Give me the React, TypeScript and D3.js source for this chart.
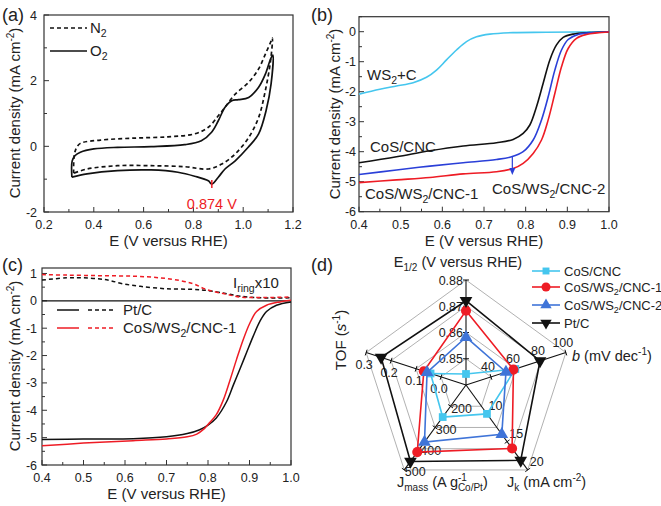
import React from "react";
import * as d3 from "d3";

const FONT = "'Liberation Sans', Arial, Helvetica, sans-serif";

// ---------------- (a) cyclic voltammetry ----------------
const cvO2E = [0.312, 0.313, 0.325, 0.346, 0.4, 0.495, 0.63, 0.765, 0.832, 0.873, 0.9, 0.927, 0.954, 0.981, 1.022, 1.062, 1.089, 1.11, 1.119, 1.112, 1.092, 1.062, 1.02, 0.968, 0.927, 0.9, 0.874, 0.86, 0.805, 0.738, 0.63, 0.495, 0.373, 0.312];
const cvO2J = [-0.94, -0.45, -0.28, -0.18, -0.08, -0.03, -0.01, 0.05, 0.17, 0.43, 0.78, 1.19, 1.39, 1.42, 1.49, 1.8, 2.2, 2.66, 2.78, 1.9, 1.09, 0.38, -0.03, -0.44, -0.69, -0.94, -1.15, -1.05, -0.91, -0.79, -0.72, -0.74, -0.84, -0.94];
const cvN2E = [0.319, 0.321, 0.33, 0.346, 0.427, 0.562, 0.697, 0.805, 0.86, 0.9, 0.927, 0.968, 1.022, 1.062, 1.089, 1.11, 1.117, 1.11, 1.089, 1.062, 1.022, 0.968, 0.914, 0.86, 0.765, 0.63, 0.495, 0.373, 0.319];
const cvN2J = [-0.82, -0.3, -0.05, 0.09, 0.19, 0.25, 0.29, 0.38, 0.58, 0.93, 1.19, 1.59, 1.95, 2.36, 2.81, 3.17, 3.3, 2.61, 1.7, 0.88, 0.27, -0.23, -0.54, -0.69, -0.62, -0.59, -0.59, -0.69, -0.82];
const cvPeakE = 0.874;
const cvPeakJ = -1.15;
const aXTicks = [0.2, 0.4, 0.6, 0.8, 1.0, 1.2];
const aYTicks = [-2, 0, 2, 4];

// ---------------- (b) LSV ----------------
const ws2cE = [0.4, 0.45, 0.49, 0.53, 0.562, 0.586, 0.61, 0.634, 0.658, 0.682, 0.714, 0.77, 0.85, 1.0];
const ws2cJ = [-2.08, -1.92, -1.81, -1.7, -1.52, -1.28, -0.94, -0.61, -0.33, -0.17, -0.08, -0.03, -0.02, 0.0];
const cosCncE = [0.4, 0.49, 0.57, 0.65, 0.73, 0.77, 0.794, 0.81, 0.826, 0.842, 0.858, 0.874, 0.89, 0.914, 0.954, 1.0];
const cosCncJ = [-4.37, -4.17, -3.97, -3.81, -3.7, -3.59, -3.39, -3.11, -2.5, -1.72, -0.94, -0.44, -0.19, -0.08, -0.03, -0.01];
const blueLsvE = [0.4, 0.49, 0.57, 0.65, 0.73, 0.766, 0.794, 0.818, 0.838, 0.854, 0.87, 0.886, 0.902, 0.926, 0.962, 1.0];
const blueLsvJ = [-4.76, -4.61, -4.48, -4.37, -4.26, -4.17, -4.0, -3.61, -2.94, -2.17, -1.28, -0.61, -0.26, -0.09, -0.03, 0.0];
const redLsvE = [0.4, 0.49, 0.57, 0.65, 0.73, 0.77, 0.794, 0.818, 0.838, 0.854, 0.87, 0.886, 0.902, 0.922, 0.946, 0.97, 1.0];
const redLsvJ = [-5.03, -4.94, -4.86, -4.74, -4.67, -4.56, -4.39, -4.06, -3.61, -2.94, -2.06, -1.17, -0.56, -0.22, -0.09, -0.04, -0.01];
const bArrowE = 0.768;
const bArrowJ = [-4.15, -4.78];
const bXTicks = [0.4, 0.5, 0.6, 0.7, 0.8, 0.9, 1.0];
const bYTicks = [-6, -5, -4, -3, -2, -1, 0];

// ---------------- (c) RRDE ----------------
const ptDiskE = [0.4, 0.5, 0.62, 0.7, 0.75, 0.78, 0.8, 0.82, 0.845, 0.861, 0.877, 0.893, 0.909, 0.925, 0.941, 0.965, 1.0];
const ptDiskJ = [-5.07, -5.05, -5.04, -4.97, -4.85, -4.71, -4.54, -4.28, -3.68, -3.08, -2.49, -1.89, -1.29, -0.75, -0.39, -0.16, -0.04];
const cnc1DiskE = [0.4, 0.5, 0.62, 0.7, 0.75, 0.773, 0.789, 0.8, 0.82, 0.837, 0.853, 0.869, 0.885, 0.901, 0.917, 0.941, 0.973, 1.0];
const cnc1DiskJ = [-5.3, -5.2, -5.11, -5.05, -4.97, -4.87, -4.7, -4.52, -4.16, -3.62, -2.9, -2.13, -1.41, -0.81, -0.39, -0.16, -0.04, 0.02];
const ptRingE = [0.4, 0.46, 0.5, 0.54, 0.564, 0.596, 0.637, 0.7, 0.765, 0.797, 0.845, 0.877, 0.925, 1.0];
const ptRingJ = [0.76, 0.84, 0.84, 0.8, 0.74, 0.62, 0.53, 0.44, 0.42, 0.38, 0.26, 0.17, 0.11, 0.11];
const cnc1RingE = [0.4, 0.46, 0.54, 0.62, 0.685, 0.733, 0.765, 0.797, 0.845, 0.877, 0.925, 1.0];
const cnc1RingJ = [0.96, 0.94, 0.92, 0.9, 0.84, 0.74, 0.62, 0.41, 0.24, 0.14, 0.12, 0.14];
const cXTicks = [0.4, 0.5, 0.6, 0.7, 0.8, 0.9, 1.0];
const cYTicks = [-6, -5, -4, -3, -2, -1, 0, 1];

// ---------------- (d) radar ----------------
const radarAxes = ["E1/2", "b", "Jk", "Jmass", "TOF"];
const radarMin = [0.84, 20, 5, 100, -0.1];
const radarMax = [0.88, 100, 20, 500, 0.3];
const radarTickE = [0.85, 0.86, 0.87, 0.88];
const radarTickB = [40, 60, 80, 100];
const radarTickJk = [10, 15, 20];
const radarTickJmass = [200, 300, 400, 500];
const radarTickTof = [0.0, 0.1, 0.2, 0.3];
const radarSeries = ["CoS/CNC", "CoS/WS2/CNC-1", "CoS/WS2/CNC-2", "Pt/C"];
const cosCncRadar = [0.8442, 59.5, 10.1, 251, 0.042];
const cnc1Radar = [0.8683, 58, 16.2, 416, 0.069];
const cnc2Radar = [0.8582, 52, 13.7, 369, 0.056];
const ptcRadar = [0.8721, 79.3, 18.3, 460, 0.24];

const CYAN = "#45c6ee";
const RED = "#ee1c25";
const BLUE_B = "#2a3fd8";
const BLUE_D = "#3f74d8";
const AXIS = "#333";

const fmt1 = (v: number) => v.toFixed(1);
const fmtInt = (v: number) => String(Math.round(v));

type FrameProps = {
  x: d3.ScaleLinear<number, number>;
  y: d3.ScaleLinear<number, number>;
  xTicks: number[];
  xMinorStep: number;
  yTicks: number[];
  yMinorStep: number;
  xFmt: (v: number) => string;
  yFmt: (v: number) => string;
  yGap: number;
};

function Frame({ x, y, xTicks, xMinorStep, yTicks, yMinorStep, xFmt, yFmt, yGap }: FrameProps) {
  const [x0, x1] = x.range();
  const [y0, y1] = y.range();
  const [dx0, dx1] = x.domain();
  const [dy0, dy1] = y.domain();
  const xMinor: number[] = [];
  for (let v = Math.ceil(dx0 / xMinorStep - 1e-6) * xMinorStep; v <= dx1 + 1e-9; v += xMinorStep) xMinor.push(+v.toFixed(4));
  const yMinor: number[] = [];
  for (let v = Math.ceil(dy0 / yMinorStep - 1e-6) * yMinorStep; v <= dy1 + 1e-9; v += yMinorStep) yMinor.push(+v.toFixed(4));
  return (
    <g>
      <rect x={x0} y={y1} width={x1 - x0} height={y0 - y1} fill="none" stroke={AXIS} strokeWidth={1.2} />
      {xMinor.map((v, i) => (
        <line key={"xm" + i} x1={x(v)} x2={x(v)} y1={y0} y2={y0 - (xTicks.some((t) => Math.abs(t - v) < 1e-6) ? 5 : 3)} stroke={AXIS} strokeWidth={1} />
      ))}
      {yMinor.map((v, i) => (
        <line key={"ym" + i} x1={x0} x2={x0 + (yTicks.some((t) => Math.abs(t - v) < 1e-6) ? 5 : 3)} y1={y(v)} y2={y(v)} stroke={AXIS} strokeWidth={1} />
      ))}
      {xTicks.map((v, i) => (
        <text key={"xl" + i} x={x(v)} y={y0 + 17} textAnchor="middle" fontSize={12.5} fill="#222">
          {xFmt(v)}
        </text>
      ))}
      {yTicks.map((v, i) => (
        <text key={"yl" + i} x={x0 - yGap} y={y(v) + 4.5} textAnchor="end" fontSize={12.5} fill="#222">
          {yFmt(v)}
        </text>
      ))}
      <text x={(x0 + x1) / 2} y={y0 + 34} textAnchor="middle" fontSize={15} fill="#222">
        E (V versus RHE)
      </text>
    </g>
  );
}

function YTitle({ x, y }: { x: number; y: number }) {
  return (
    <text transform={`translate(${x},${y}) rotate(-90)`} textAnchor="middle" fontSize={15} fill="#222">
      Current density (mA cm<tspan dy={-6} fontSize={10}>-2</tspan>
      <tspan dy={6}>)</tspan>
    </text>
  );
}

function curve(xs: number[], ys: number[], x: d3.ScaleLinear<number, number>, y: d3.ScaleLinear<number, number>) {
  const pts = xs.map((v, i) => [v, ys[i]] as [number, number]);
  return d3
    .line<[number, number]>()
    .x((d) => x(d[0]))
    .y((d) => y(d[1]))
    .curve(d3.curveCatmullRom.alpha(0.5))(pts) as string;
}

function PanelA() {
  const x = d3.scaleLinear().domain([0.2, 1.2]).range([44, 293]);
  const y = d3.scaleLinear().domain([-2, 4]).range([212, 15]);
  return (
    <g>
      <Frame x={x} y={y} xTicks={aXTicks} xMinorStep={0.1} yTicks={aYTicks} yMinorStep={1} xFmt={fmt1} yFmt={fmtInt} yGap={7} />
      <path d={curve(cvN2E, cvN2J, x, y)} fill="none" stroke="#111" strokeWidth={1.7} strokeDasharray="4,3" />
      <path d={curve(cvO2E, cvO2J, x, y)} fill="none" stroke="#111" strokeWidth={1.7} />
      <line x1={x(cvPeakE)} x2={x(cvPeakE)} y1={y(cvPeakJ) - 4} y2={y(cvPeakJ) + 4} stroke={RED} strokeWidth={1.5} />
      <text x={x(cvPeakE)} y={y(cvPeakJ) + 25} textAnchor="middle" fontSize={14.5} fill={RED}>
        {cvPeakE} V
      </text>
      <line x1={50} x2={87} y1={28} y2={28} stroke="#111" strokeWidth={1.7} strokeDasharray="4,3" />
      <text x={90} y={33} fontSize={15} fill="#222">
        N<tspan dy={4} fontSize={10.5}>2</tspan>
      </text>
      <line x1={50} x2={87} y1={51} y2={51} stroke="#111" strokeWidth={1.7} />
      <text x={90} y={56} fontSize={15} fill="#222">
        O<tspan dy={4} fontSize={10.5}>2</tspan>
      </text>
      <YTitle x={20} y={113} />
      <text x={2} y={21} fontSize={18} fill="#222">(a)</text>
    </g>
  );
}

function PanelB() {
  const x = d3.scaleLinear().domain([0.4, 1.0]).range([359, 609]);
  const y = d3.scaleLinear().domain([-6, 0.5]).range([211.7, 16.7]);
  return (
    <g>
      <Frame x={x} y={y} xTicks={bXTicks} xMinorStep={0.05} yTicks={bYTicks} yMinorStep={0.5} xFmt={fmt1} yFmt={fmtInt} yGap={3} />
      <path d={curve(ws2cE, ws2cJ, x, y)} fill="none" stroke={CYAN} strokeWidth={1.6} />
      <path d={curve(cosCncE, cosCncJ, x, y)} fill="none" stroke="#111" strokeWidth={1.6} />
      <path d={curve(blueLsvE, blueLsvJ, x, y)} fill="none" stroke={BLUE_B} strokeWidth={1.6} />
      <path d={curve(redLsvE, redLsvJ, x, y)} fill="none" stroke={RED} strokeWidth={1.6} />
      <line x1={x(bArrowE)} x2={x(bArrowE)} y1={y(bArrowJ[0])} y2={y(bArrowJ[1]) - 5} stroke={BLUE_B} strokeWidth={1.2} />
      <path d={`M${x(bArrowE) - 3},${y(bArrowJ[1]) - 7} L${x(bArrowE) + 3},${y(bArrowJ[1]) - 7} L${x(bArrowE)},${y(bArrowJ[1])} Z`} fill={BLUE_B} />
      <text x={367} y={80} fontSize={15} fill="#222">
        WS<tspan dy={4} fontSize={10.5}>2</tspan>
        <tspan dy={-4}>+C</tspan>
      </text>
      <text x={370} y={152} fontSize={15} fill="#222">CoS/CNC</text>
      <text x={365} y={199} fontSize={15} fill="#222">
        CoS/WS<tspan dy={4} fontSize={10.5}>2</tspan>
        <tspan dy={-4}>/CNC-1</tspan>
      </text>
      <text x={492} y={194} fontSize={15} fill="#222">
        CoS/WS<tspan dy={4} fontSize={10.5}>2</tspan>
        <tspan dy={-4}>/CNC-2</tspan>
      </text>
      <YTitle x={340} y={114} />
      <text x={311} y={21} fontSize={18} fill="#222">(b)</text>
    </g>
  );
}

function PanelC() {
  const x = d3.scaleLinear().domain([0.4, 1.0]).range([42, 291]);
  const y = d3.scaleLinear().domain([-6, 1.2]).range([465, 268]);
  return (
    <g>
      <Frame x={x} y={y} xTicks={cXTicks} xMinorStep={0.05} yTicks={cYTicks} yMinorStep={0.5} xFmt={fmt1} yFmt={fmtInt} yGap={5} />
      <line x1={x(0.4)} x2={x(1.0)} y1={y(0)} y2={y(0)} stroke="#111" strokeWidth={1.2} />
      <path d={curve(ptRingE, ptRingJ, x, y)} fill="none" stroke="#111" strokeWidth={1.5} strokeDasharray="4,3" />
      <path d={curve(cnc1RingE, cnc1RingJ, x, y)} fill="none" stroke={RED} strokeWidth={1.5} strokeDasharray="4,3" />
      <path d={curve(ptDiskE, ptDiskJ, x, y)} fill="none" stroke="#111" strokeWidth={1.5} />
      <path d={curve(cnc1DiskE, cnc1DiskJ, x, y)} fill="none" stroke={RED} strokeWidth={1.5} />
      <text x={233} y={288} fontSize={15} fill="#222">
        I<tspan dy={4} fontSize={10.5}>ring</tspan>
        <tspan dy={-4}>x10</tspan>
      </text>
      <line x1={57} x2={79} y1={310} y2={310} stroke="#111" strokeWidth={1.5} />
      <line x1={88} x2={113} y1={310} y2={310} stroke="#111" strokeWidth={1.5} strokeDasharray="4,3" />
      <text x={123} y={315} fontSize={15} fill="#222">Pt/C</text>
      <line x1={57} x2={79} y1={328} y2={328} stroke={RED} strokeWidth={1.5} />
      <line x1={88} x2={113} y1={328} y2={328} stroke={RED} strokeWidth={1.5} strokeDasharray="4,3" />
      <text x={123} y={333} fontSize={15} fill="#222">
        CoS/WS<tspan dy={4} fontSize={10.5}>2</tspan>
        <tspan dy={-4}>/CNC-1</tspan>
      </text>
      <YTitle x={20} y={366} />
      <text x={2} y={271} fontSize={18} fill="#222">(c)</text>
    </g>
  );
}

function Marker({ kind, x, y, color, scale = 1 }: { kind: number; x: number; y: number; color: string; scale?: number }) {
  const types = [d3.symbolSquare, d3.symbolCircle, d3.symbolTriangle, d3.symbolTriangle];
  const sizes = [60, 80, 70, 70];
  const d = d3.symbol().type(types[kind]).size(sizes[kind] * scale)() as string;
  const rot = kind === 3 ? 180 : 0;
  return <path d={d} transform={`translate(${x},${y}) rotate(${rot})`} fill={color} />;
}

function PanelD() {
  const cx = 466;
  const cy = 385;
  const R = 105;
  const angles = [-90, -18, 54, 126, 198].map((a) => (a * Math.PI) / 180);
  const scales = radarAxes.map((_, i) => d3.scaleLinear().domain([radarMin[i], radarMax[i]]).range([0, R]));
  const tickSets = [radarTickE, radarTickB, radarTickJk, radarTickJmass, radarTickTof];
  const tickFmts = [(v: number) => v.toFixed(2), fmtInt, fmtInt, fmtInt, (v: number) => v.toFixed(1)];
  const labelOff: [number, number][] = [[-3, 0], [-3, -10], [9, -8], [11, 2], [-2, 12]];
  const pt = (i: number, r: number): [number, number] => [cx + r * Math.cos(angles[i]), cy + r * Math.sin(angles[i])];
  const rings = [0.25, 0.5, 0.75, 1];
  const series = [cosCncRadar, cnc1Radar, cnc2Radar, ptcRadar];
  const colors = [CYAN, RED, BLUE_D, "#111"];
  const line = d3.line<[number, number]>().curve(d3.curveLinearClosed);
  return (
    <g>
      {rings.map((f, k) => (
        <path key={"ring" + k} d={line(angles.map((_, i) => pt(i, R * f))) as string} fill="none" stroke="#a8a8a8" strokeWidth={0.9} />
      ))}
      {angles.map((_, i) => {
        const [ex, ey] = pt(i, R);
        const a = angles[i];
        const px = -Math.sin(a);
        const py = Math.cos(a);
        return (
          <g key={"ax" + i}>
            <line x1={cx} y1={cy} x2={ex} y2={ey} stroke="#111" strokeWidth={1.1} />
            {tickSets[i].map((t, k) => {
              const [tx, ty] = pt(i, scales[i](t));
              return (
                <g key={"t" + k}>
                  <line x1={tx - px * 3} y1={ty - py * 3} x2={tx + px * 3} y2={ty + py * 3} stroke="#111" strokeWidth={1} />
                  <text
                    x={tx + labelOff[i][0]}
                    y={ty + labelOff[i][1] + 4.5}
                    textAnchor={i === 0 ? "end" : "middle"}
                    fontSize={12.5}
                    fill="#222"
                  >
                    {tickFmts[i](t)}
                  </text>
                </g>
              );
            })}
          </g>
        );
      })}
      {series.map((vals, s) => {
        const pts = vals.map((v, i) => pt(i, scales[i](v)));
        return (
          <g key={"s" + s}>
            <path d={line(pts) as string} fill="none" stroke={colors[s]} strokeWidth={1.6} />
            {pts.map((p, k) => (
              <Marker key={k} kind={s} x={p[0]} y={p[1]} color={colors[s]} />
            ))}
          </g>
        );
      })}
      {radarSeries.map((name, s) => {
        const ly = [271, 287, 305, 323][s];
        const parts = name.split("WS2");
        return (
          <g key={"lg" + s}>
            <line x1={532} x2={560} y1={ly} y2={ly} stroke={colors[s]} strokeWidth={1.6} />
            <Marker kind={s} x={546} y={ly} color={colors[s]} scale={0.8} />
            <text x={564} y={ly + 4.5} fontSize={13} fill="#222">
              {parts.length > 1 ? (
                <>
                  {parts[0]}WS<tspan dy={3.5} fontSize={9}>2</tspan>
                  <tspan dy={-3.5}>{parts[1]}</tspan>
                </>
              ) : (
                name
              )}
            </text>
          </g>
        );
      })}
      <text x={458} y={267} textAnchor="middle" fontSize={14.5} fill="#222">
        E<tspan dy={4} fontSize={10}>1/2</tspan>
        <tspan dy={-4}> (V versus RHE)</tspan>
      </text>
      <text x={572} y={361} fontSize={14.5} fill="#222">
        <tspan fontStyle="italic">b</tspan> (mV dec<tspan dy={-6} fontSize={10}>-1</tspan>
        <tspan dy={6}>)</tspan>
      </text>
      <text x={507} y={487} fontSize={14.5} fill="#222">
        J<tspan dy={4} fontSize={10}>k</tspan>
        <tspan dy={-4}> (mA cm</tspan>
        <tspan dy={-6} fontSize={10}>-2</tspan>
        <tspan dy={6}>)</tspan>
      </text>
      <text x={397} y={487} fontSize={14.5} fill="#222">
        J<tspan dy={4} fontSize={10}>mass</tspan>
        <tspan dy={-4}> (A g</tspan>
        <tspan dy={-6} fontSize={10}>-1</tspan>
        <tspan dy={10} dx={-9} fontSize={10}>Co/Pt</tspan>
        <tspan dy={-4}>)</tspan>
      </text>
      <text transform="translate(346,340) rotate(-90)" textAnchor="middle" fontSize={15} fill="#222">
        TOF (<tspan fontStyle="italic">s</tspan>
        <tspan dy={-6} fontSize={10}>-1</tspan>
        <tspan dy={6}>)</tspan>
      </text>
      <text x={311} y={271} fontSize={18} fill="#222">(d)</text>
    </g>
  );
}

export default function App() {
  return (
    <svg
      width={661}
      height={506}
      viewBox="0 0 661 506"
      style={{ position: "absolute", left: 0, top: 0, background: "#fff", fontFamily: FONT }}
    >
      <rect x={0} y={0} width={661} height={506} fill="#fff" />
      <PanelA />
      <PanelB />
      <PanelC />
      <PanelD />
    </svg>
  );
}
